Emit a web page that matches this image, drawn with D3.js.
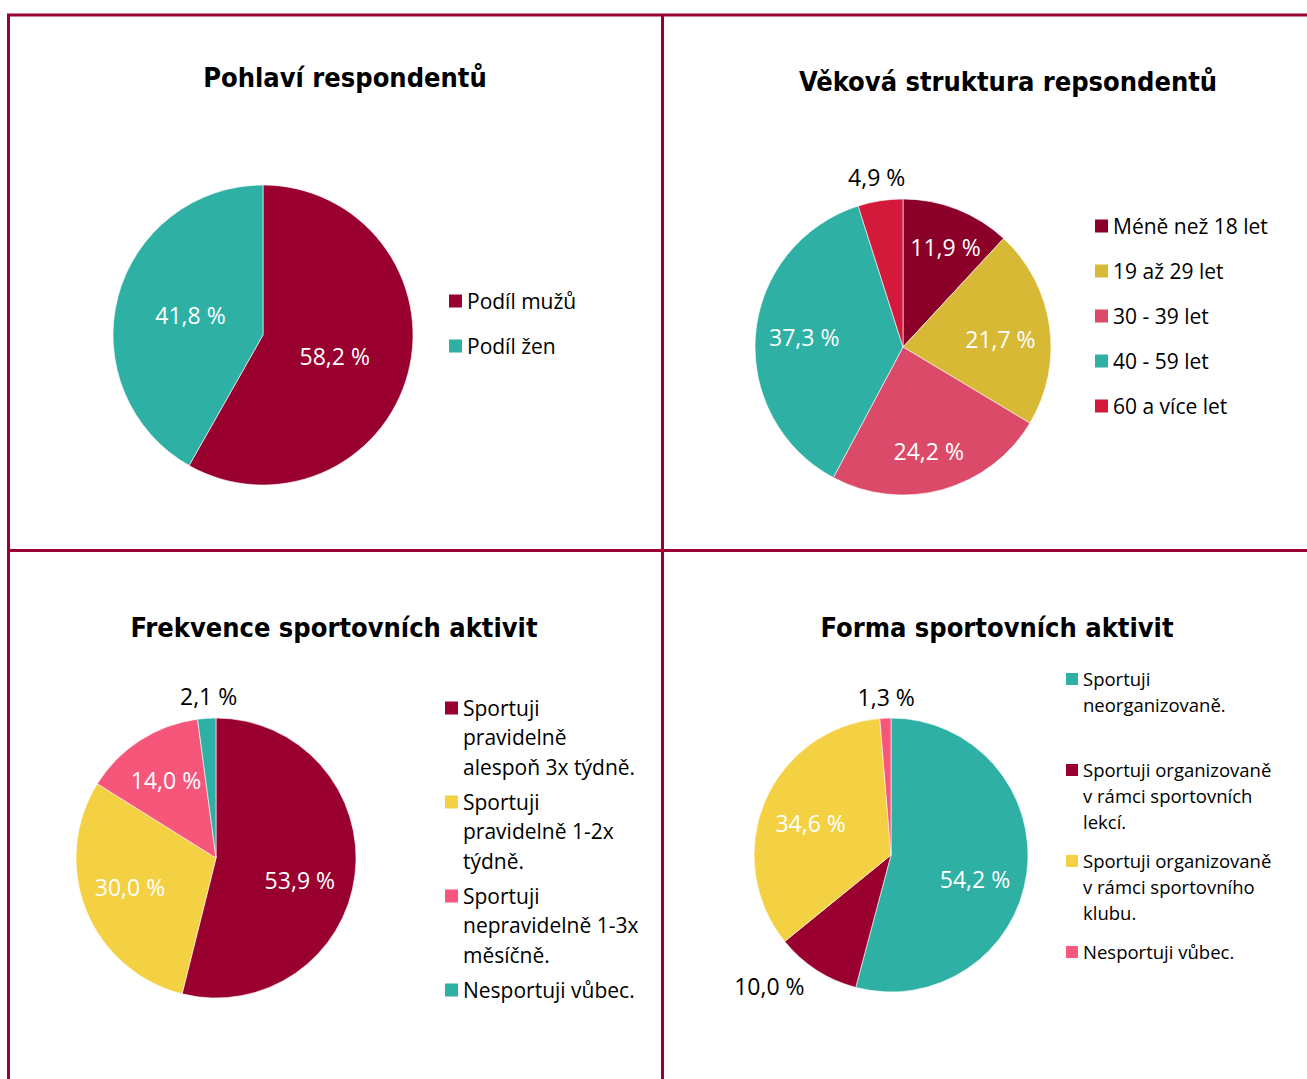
<!DOCTYPE html>
<html>
<head>
<meta charset="utf-8">
<script src="https://cdn.jsdelivr.net/npm/d3@7"></script>
<style>
  body { margin: 0; background: #fff; }
  svg { display: block; }
</style>
</head>
<body>
<div id="chart"></div>
<script>
// data
var gender_labels = ['Podíl mužů', 'Podíl žen'];
var gender_values = [58.2, 41.8];

var age_labels = ['Méně než 18 let', '19 až 29 let', '30 - 39 let', '40 - 59 let', '60 a více let'];
var age_values = [11.9, 21.7, 24.2, 37.3, 4.9];

var freq_labels = ['Sportuji\npravidelně\nalespoň 3x týdně.', 'Sportuji\npravidelně 1-2x\ntýdně.', 'Sportuji\nnepravidelně 1-3x\nměsíčně.', 'Nesportuji vůbec.'];
var freq_values = [53.9, 30.0, 14.0, 2.1];

var form_labels = ['Sportuji\nneorganizovaně.', 'Sportuji organizovaně\nv rámci sportovních\nlekcí.', 'Sportuji organizovaně\nv rámci sportovního\nklubu.', 'Nesportuji vůbec.'];
var form_values = [54.2, 10.0, 34.6, 1.3];

var width = 1307;
var height = 1079;
var border = '#9b0033';
var font = '"Open Sans", Lato, sans-serif';
var title_font = '"DejaVu Sans Condensed", "DejaVu Sans", sans-serif';

var svg = d3.select('#chart')
	.append('svg')
	.attr('width', width)
	.attr('height', height);

// panel borders
var lines = [
	[7, 15, width, 15],
	[8.5, 14, 8.5, height],
	[662.5, 15, 662.5, height],
	[8, 550.5, width, 550.5]
];
svg.selectAll('line.border')
	.data(lines)
	.enter()
	.append('line')
	.attr('x1', function (d) { return d[0]; })
	.attr('y1', function (d) { return d[1]; })
	.attr('x2', function (d) { return d[2]; })
	.attr('y2', function (d) { return d[3]; })
	.attr('stroke', border)
	.attr('stroke-width', 3);

function fmt(v) {
	return v.toFixed(1).replace('.', ',') + ' %';
}

function drawPie(o) {
	var g = svg.append('g');

	g.append('text')
		.attr('x', o.title_x)
		.attr('y', o.title_y)
		.attr('text-anchor', 'middle')
		.attr('font-family', title_font)
		.attr('font-weight', 'bold')
		.attr('font-size', 27)
		.attr('fill', '#000')
		.text(o.title);

	var pie = d3.pie().sort(null).value(function (d) { return d; });
	var arcs = pie(o.values);
	var arc = d3.arc().innerRadius(0).outerRadius(o.r);

	var pg = g.append('g').attr('transform', 'translate(' + o.cx + ',' + o.cy + ')');

	pg.selectAll('path')
		.data(arcs)
		.enter()
		.append('path')
		.attr('d', arc)
		.attr('fill', function (d, i) { return o.colors[i]; })
		.attr('stroke', '#fff')
		.attr('stroke-width', 0.6);

	// value labels (best-fit nudges per slice)
	pg.selectAll('text')
		.data(arcs)
		.enter()
		.append('text')
		.attr('transform', function (d, i) {
			var k = o.label_k[i];
			var a = (d.startAngle + d.endAngle) / 2 + ((o.shift && o.shift[i]) || 0);
			return 'translate(' + (Math.sin(a) * o.r * k) + ',' + (-Math.cos(a) * o.r * k) + ')';
		})
		.attr('text-anchor', 'middle')
		.attr('dy', '0.36em')
		.attr('font-family', font)
		.attr('font-size', 23)
		.attr('fill', function (d, i) { return o.label_k[i] > 1 ? '#000' : '#fff'; })
		.text(function (d) { return fmt(d.data); });

	// legend
	var lg = g.append('g').attr('transform', 'translate(' + o.leg_x + ',' + o.leg_y + ')');
	var items = lg.selectAll('g')
		.data(o.labels)
		.enter()
		.append('g')
		.attr('transform', function (d, i) { return 'translate(0,' + (i * o.leg_step) + ')'; });

	items.append('rect')
		.attr('x', 0)
		.attr('y', -o.sq / 2)
		.attr('width', o.sq)
		.attr('height', o.sq)
		.attr('fill', function (d, i) { return o.colors[i]; });

	items.append('text')
		.attr('font-family', font)
		.attr('font-size', o.leg_fs)
		.attr('fill', '#000')
		.selectAll('tspan')
		.data(function (d) { return d.split('\n'); })
		.enter()
		.append('tspan')
		.attr('x', o.sq + 5)
		.attr('y', function (d, j) { return j * o.leg_lh; })
		.attr('dy', '0.36em')
		.text(function (d) { return d; });
}

drawPie({
	title: 'Pohlaví respondentů', title_x: 345, title_y: 87,
	values: gender_values, labels: gender_labels,
	colors: ['#990030', '#2eb0a4'],
	cx: 263, cy: 335, r: 150,
	label_k: [0.5, 0.5], shift: [0.04, 0],
	leg_x: 449, leg_y: 301, leg_step: 45, leg_lh: 29, leg_fs: 21, sq: 13
});

drawPie({
	title: 'Věková struktura repsondentů', title_x: 1008, title_y: 91,
	values: age_values, labels: age_labels,
	colors: ['#8b0029', '#d8b936', '#db4a68', '#2eb0a4', '#d31a3b'],
	cx: 903, cy: 347, r: 148,
	label_k: [0.73, 0.66, 0.73, 0.67, 1.16], shift: [0.03, 0.07, 0.03, 0, 0],
	leg_x: 1095, leg_y: 226, leg_step: 45, leg_lh: 29, leg_fs: 21, sq: 13
});

drawPie({
	title: 'Frekvence sportovních aktivit', title_x: 334, title_y: 637,
	values: freq_values, labels: freq_labels,
	colors: ['#99002f', '#f3d142', '#f5567a', '#2eb0a4'],
	cx: 216, cy: 858, r: 140,
	label_k: [0.62, 0.65, 0.66, 1.15], shift: [0.14, 0.05, 0, 0.02],
	leg_x: 445, leg_y: 708, leg_step: 94, leg_lh: 29.5, leg_fs: 21, sq: 13
});

drawPie({
	title: 'Forma sportovních aktivit', title_x: 997, title_y: 637,
	values: form_values, labels: form_labels,
	colors: ['#2eb0a4', '#99002f', '#f3d142', '#f5567a'],
	cx: 891, cy: 855, r: 137,
	label_k: [0.64, 1.31, 0.63, 1.15], shift: [0.16, 0.17, -0.03, 0.01],
	leg_x: 1066, leg_y: 679, leg_step: 91, leg_lh: 26, leg_fs: 18.5, sq: 12
});
</script>
</body>
</html>
